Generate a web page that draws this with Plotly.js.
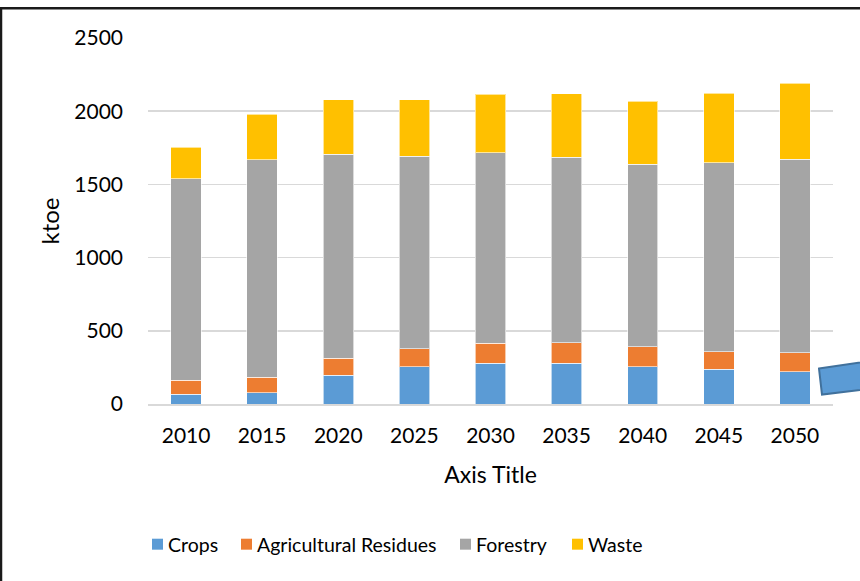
<!DOCTYPE html>
<html>
<head>
<meta charset="utf-8">
<script src="https://cdn.plot.ly/plotly-3.0.1.min.js"></script>
<style>
html,body{margin:0;padding:0;background:#fff;}
#chart{width:860px;height:581px;}
</style>
</head>
<body>
<div id="chart"></div>
<script>
var years = ['2010','2015','2020','2025','2030','2035','2040','2045','2050'];
var crops = [66, 78, 195, 255, 280, 279, 256, 236, 222];
var agriculturalResidues = [97, 106, 118, 124, 135, 138, 136, 122, 129];
var forestry = [1374, 1484, 1392, 1312, 1302, 1267, 1246, 1290, 1322];
var waste = [218, 312, 373, 387, 399, 434, 430, 474, 517];
var seriesNames = ['Crops', 'Agricultural Residues', 'Forestry', 'Waste'];
var seriesColors = ['#5B9BD5', '#ED7D31', '#A5A5A5', '#FFC000'];
var yTicks = [0, 500, 1000, 1500, 2000, 2500];

var FONT = 'Lato, sans-serif';
var edge = {color: 'rgba(255,255,255,0.6)', width: 1};
var seriesValues = [crops, agriculturalResidues, forestry, waste];
var data = seriesNames.map(function(n, i){
  return {type: 'bar', name: n, x: years, y: seriesValues[i],
          marker: {color: seriesColors[i], line: edge}, hoverinfo: 'x+y+name'};
});

var W = 685, H = 366.8, L = 148, B = 404.5;
function px(x){ return (x - L) / W; }
function py(y){ return (B - y) / H; }

var shapes = [
  {type: 'rect', xref: 'paper', yref: 'paper', x0: px(1), x1: px(900), y0: py(640), y1: py(8),
   line: {color: '#1a1a1a', width: 2.5}, fillcolor: 'rgba(0,0,0,0)', layer: 'above'},
  {type: 'path', xref: 'paper', yref: 'paper',
   path: 'M' + px(819) + ',' + py(369) + ' L' + px(880) + ',' + py(360) +
         ' L' + px(882) + ',' + py(388) + ' L' + px(822) + ',' + py(395) + ' Z',
   fillcolor: '#5B9BD5', line: {color: '#41719C', width: 2}, layer: 'above'}
];
var annotations = [];
// custom legend (Excel-like spacing)
var legendStarts = [152, 241, 460, 572];
var legendY = 545;
seriesNames.forEach(function(n, i){
  var x0 = legendStarts[i];
  shapes.push({type: 'rect', xref: 'paper', yref: 'paper',
    x0: px(x0), x1: px(x0 + 11), y0: py(legendY + 5.5), y1: py(legendY - 5.5),
    fillcolor: seriesColors[i], line: {width: 0}});
  annotations.push({xref: 'paper', yref: 'paper', x: px(x0 + 14), y: py(legendY),
    xanchor: 'left', yanchor: 'middle', showarrow: false, text: n,
    font: {family: FONT, size: 19.5, color: '#000'}});
});

var layout = {
  width: 860, height: 581,
  margin: {l: 148, r: 27, t: 38, b: 176.5},
  paper_bgcolor: '#ffffff', plot_bgcolor: '#ffffff',
  barmode: 'stack', bargap: 0.6,
  font: {family: FONT, size: 21, color: '#000000'},
  showlegend: false,
  xaxis: {type: 'category', showgrid: false, showline: true, linecolor: '#d9d9d9', linewidth: 2,
          ticks: '', ticklabelstandoff: 12, tickfont: {family: FONT, size: 21, color: '#000'},
          title: {text: 'Axis Title', font: {family: FONT, size: 23, color: '#000'}, standoff: 21}},
  yaxis: {range: [0, 2500], tickvals: yTicks, ticktext: yTicks.map(String), showgrid: true,
          gridcolor: '#d9d9d9', gridwidth: 1.5, zeroline: false, showline: false, ticks: '',
          ticklabelstandoff: 24, tickfont: {family: FONT, size: 21, color: '#000'},
          title: {text: 'ktoe', font: {family: FONT, size: 24, color: '#000'}, standoff: 7}},
  shapes: shapes,
  annotations: annotations
};
Plotly.newPlot('chart', data, layout, {displayModeBar: false, staticPlot: true});
</script>
</body>
</html>
